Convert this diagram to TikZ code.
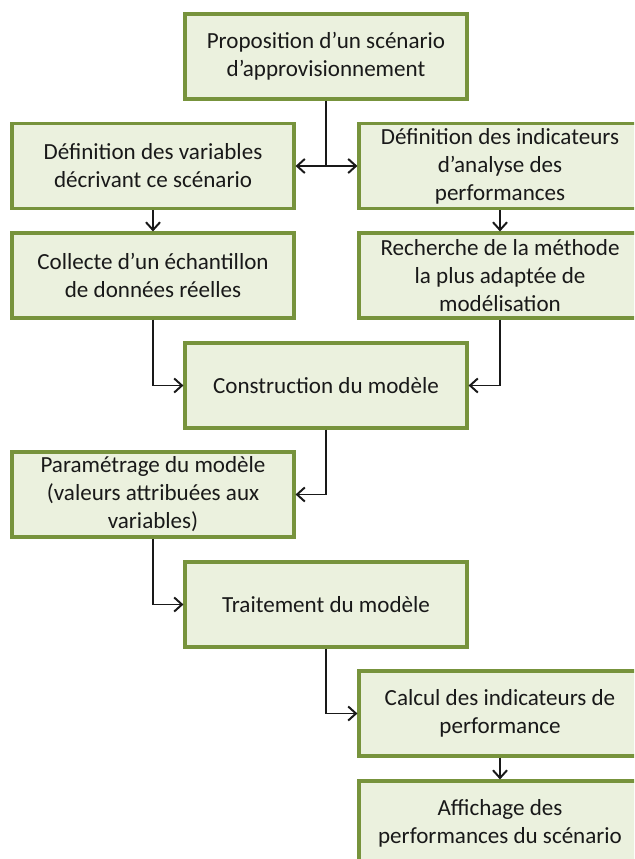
\documentclass[tikz,border=0pt]{standalone}
\usepackage{fontspec}
\setmainfont{Carlito}
\usetikzlibrary{arrows.meta}
\definecolor{olivebord}{HTML}{77933C}
\definecolor{olivefond}{HTML}{EBF1DE}

\begin{document}
\begin{tikzpicture}[x=0.025cm,y=-0.025cm,>={Straight Barb[length=5.5pt,width=10pt]},
  etape/.style={rectangle,draw=olivebord,fill=olivefond,line width=2.2pt,
    minimum width=7.05cm,minimum height=2.125cm,align=center,
    font=\fontsize{16.4}{19.9}\selectfont,text=black!90},
  fleche/.style={line width=1.4pt,->,black!90}]
  \clip (0,0) rectangle (634,859);
  \useasboundingbox (0,0) rectangle (634,859);
  % les etapes
  \node (prop) at (326,56.5) [etape]{Proposition d'un scénario\\d'approvisionnement};
  \node (defvar) at (153,166) [etape]{Définition des variables\\décrivant ce scénario};
  \node (defind) at (500,166) [etape]{Définition des indicateurs\\d'analyse des\\performances};
  \node (collecte) at (153,275.5) [etape]{Collecte d'un échantillon\\de données réelles};
  \node (recherche) at (500,275.5) [etape]{Recherche de la méthode\\la plus adaptée de\\modélisation};
  \node (constr) at (326,385.5) [etape]{Construction du modèle};
  \node (param) at (153,494.5) [etape]{Paramétrage du modèle\\(valeurs attribuées aux\\variables)};
  \node (trait) at (326,604.5) [etape]{Traitement du modèle};
  \node (calcul) at (500,713.5) [etape]{Calcul des indicateurs de\\performance};
  \node (affich) at (500,823.5) [etape]{Affichage des\\performances du scénario};
  % les liaisons
  \coordinate (split) at (prop.south |- defvar.east);
  \draw[line width=1.4pt,black!90] (prop) -- (split);
  \draw[fleche] (split) -- (defvar);
  \draw[fleche] (split) -- (defind);
  \draw[fleche] (defvar) -- (collecte);
  \draw[fleche] (defind) -- (recherche);
  \draw[fleche] (collecte) |- (constr);
  \draw[fleche] (recherche) |- (constr);
  \draw[fleche] (constr) |- (param);
  \draw[fleche] (param) |- (trait);
  \draw[fleche] (trait) |- (calcul);
  \draw[fleche] (calcul) -- (affich);
\end{tikzpicture}
\end{document}
